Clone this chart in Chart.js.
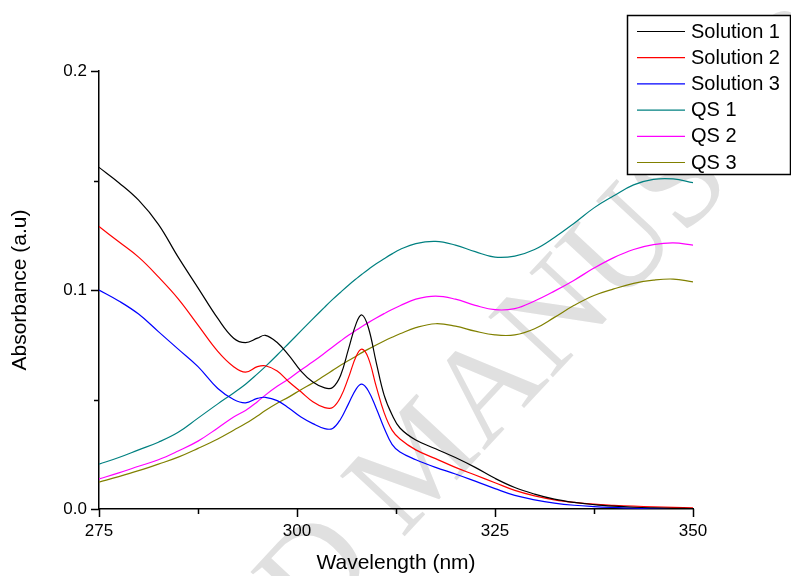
<!DOCTYPE html>
<html>
<head>
<meta charset="utf-8">
<script src="https://cdn.jsdelivr.net/npm/chart.js@4.4.1/dist/chart.umd.min.js"></script>
<style>
  html, body { margin: 0; padding: 0; background: #fff; }
  #wrap { width: 791px; height: 576px; position: relative; }
</style>
</head>
<body>
<div id="wrap"><canvas id="chart" width="791" height="576"></canvas></div>
<script>
// Wavelength grid (nm)
const wavelengths = [275, 277.5, 280, 282.5, 285, 287.5, 290, 292, 293.5, 295, 296, 297.5, 299, 300.5, 302, 303.5,
  304.5, 305.5, 306.5, 307.5, 308.2, 309, 310, 311, 312, 313, 315, 317.5, 320, 322.5, 325, 327.5, 330, 332.5,
  335, 337.5, 340, 342.5, 345, 347.5, 350];

const solution1 = [0.156, 0.149, 0.141, 0.130, 0.115, 0.101, 0.087, 0.078, 0.076, 0.078, 0.0793, 0.076, 0.070, 0.063,
  0.058, 0.0553, 0.0555, 0.061, 0.073, 0.085, 0.0886, 0.083, 0.067, 0.052, 0.043, 0.037, 0.0315, 0.0275, 0.0235, 0.019,
  0.014, 0.0098, 0.0068, 0.0045, 0.003, 0.002, 0.0013, 0.0008, 0.0005, 0.0003, 0.0002];

const solution2 = [0.129, 0.122, 0.115, 0.106, 0.096, 0.084, 0.072, 0.065, 0.0625, 0.065, 0.0654, 0.063, 0.058, 0.0535,
  0.049, 0.0463, 0.0463, 0.051, 0.060, 0.070, 0.073, 0.069, 0.056, 0.044, 0.036, 0.032, 0.027, 0.023, 0.019, 0.0155,
  0.012, 0.0085, 0.006, 0.0042, 0.003, 0.0022, 0.0017, 0.0013, 0.001, 0.0007, 0.0005];

const solution3 = [0.100, 0.095, 0.089, 0.081, 0.073, 0.065, 0.055, 0.050, 0.0485, 0.0505, 0.051, 0.0495, 0.046, 0.042,
  0.039, 0.0367, 0.0368, 0.041, 0.048, 0.055, 0.057, 0.054, 0.046, 0.037, 0.0295, 0.026, 0.0225, 0.019, 0.016, 0.0127,
  0.0093, 0.0062, 0.0042, 0.0027, 0.0017, 0.0011, 0.0007, 0.0004, 0.0002, 0.0001, 0.0001];

const qs1 = [0.0205, 0.0235, 0.027, 0.0305, 0.035, 0.0415, 0.048, 0.053, 0.057, 0.0617, 0.065, 0.0703, 0.0758, 0.0813,
  0.0868, 0.0922, 0.0957, 0.099, 0.1022, 0.1052, 0.1072, 0.1094, 0.112, 0.1143, 0.1165, 0.1185, 0.1212, 0.1222, 0.1205,
  0.1175, 0.115, 0.1155, 0.1185, 0.124, 0.1305, 0.1375, 0.143, 0.148, 0.1505, 0.1507, 0.149];

const qs2 = [0.0137, 0.0165, 0.0195, 0.0225, 0.0265, 0.031, 0.037, 0.042, 0.045, 0.049, 0.052, 0.056, 0.0595, 0.0635,
  0.0672, 0.0712, 0.074, 0.0767, 0.0793, 0.0817, 0.0833, 0.0851, 0.0872, 0.0892, 0.0911, 0.0928, 0.0958, 0.0972, 0.0958,
  0.093, 0.091, 0.0915, 0.095, 0.0995, 0.1045, 0.110, 0.1148, 0.1185, 0.1207, 0.1215, 0.1205];

const qs3 = [0.0123, 0.0148, 0.0175, 0.0205, 0.0237, 0.0277, 0.032, 0.036, 0.039, 0.0425, 0.045, 0.0483, 0.0512, 0.0545,
  0.0575, 0.061, 0.0633, 0.0656, 0.0678, 0.0699, 0.0714, 0.073, 0.0749, 0.0767, 0.0784, 0.08, 0.0828, 0.0846, 0.0835,
  0.0812, 0.0795, 0.0795, 0.0823, 0.0875, 0.093, 0.0975, 0.1005, 0.103, 0.1045, 0.105, 0.1037];

const seriesNames = ['Solution 1', 'Solution 2', 'Solution 3', 'QS 1', 'QS 2', 'QS 3'];
const seriesValues = [solution1, solution2, solution3, qs1, qs2, qs3];
const seriesColors = ['#000000', '#ff0000', '#0000ff', '#008080', '#ff00ff', '#808000'];

const xTicks = [275, 300, 325, 350];
const yTicks = [0.0, 0.1, 0.2];

const FONT = 'Arial, "Liberation Sans", sans-serif';

// Watermark, drawn before the axes so labels and curves sit on top
const watermark = {
  id: 'watermark',
  beforeDraw(chart) {
    const ctx = chart.ctx;
    ctx.save();
    ctx.translate(402, 539);
    ctx.rotate(-47 * Math.PI / 180);
    ctx.font = '135px "Liberation Serif", "Times New Roman", serif';
    ctx.fillStyle = '#e0e0e0';
    ctx.textBaseline = 'alphabetic';
    ctx.textAlign = 'right';
    ctx.fillText('ACCEPTED ', 0, 0);
    ctx.textAlign = 'left';
    ctx.fillText('MANUSCRIPT', 0, 0);
    ctx.restore();
  }
};

// Outward tick marks, long for labelled values, short in between
const tickMarks = {
  id: 'tickMarks',
  afterDraw(chart) {
    const ctx = chart.ctx;
    const xs = chart.scales.x, ys = chart.scales.y;
    ctx.save();
    ctx.strokeStyle = '#000';
    ctx.lineWidth = 1.5;
    ctx.beginPath();
    xs.ticks.forEach(t => {
      const px = Math.round(xs.getPixelForValue(t.value)) + 0.5;
      const major = xTicks.includes(t.value);
      ctx.moveTo(px, xs.top);
      ctx.lineTo(px, xs.top + (major ? 8 : 5));
    });
    ys.ticks.forEach(t => {
      const py = Math.round(ys.getPixelForValue(t.value)) + 0.5;
      const major = yTicks.some(v => Math.abs(v - t.value) < 1e-9);
      ctx.moveTo(ys.right, py);
      ctx.lineTo(ys.right - (major ? 8 : 5), py);
    });
    ctx.stroke();
    ctx.restore();
  }
};

// Boxed legend in the top right corner
const boxLegend = {
  id: 'boxLegend',
  afterDraw(chart) {
    const ctx = chart.ctx;
    ctx.save();
    ctx.fillStyle = '#fff';
    ctx.fillRect(627, 15, 163, 159);
    ctx.strokeStyle = '#000';
    ctx.lineWidth = 1.5;
    ctx.strokeRect(627.5, 15.5, 163, 159);
    ctx.font = '20px ' + FONT;
    ctx.textBaseline = 'middle';
    ctx.textAlign = 'left';
    chart.data.datasets.forEach((ds, i) => {
      const y = 31 + i * 26.2;
      ctx.strokeStyle = ds.borderColor;
      ctx.lineWidth = 1.2;
      ctx.beginPath();
      ctx.moveTo(637, y + 0.5);
      ctx.lineTo(685, y + 0.5);
      ctx.stroke();
      ctx.fillStyle = '#000';
      ctx.fillText(ds.label, 691, y + 1);
    });
    ctx.restore();
  }
};

new Chart(document.getElementById('chart'), {
  type: 'line',
  data: {
    datasets: seriesNames.map((name, i) => ({
      label: name,
      data: wavelengths.map((w, j) => ({ x: w, y: seriesValues[i][j] })),
      borderColor: seriesColors[i],
      borderWidth: 1.2,
      pointRadius: 0,
      fill: false,
      tension: 0.4
    }))
  },
  options: {
    responsive: false,
    animation: false,
    layout: { padding: { top: 71, right: 98, left: 0, bottom: 0 } },
    plugins: {
      legend: { display: false },
      tooltip: { enabled: false }
    },
    scales: {
      x: {
        type: 'linear',
        min: 275,
        max: 350,
        afterFit(scale) { scale.height = 67; },
        grid: { drawOnChartArea: false, drawTicks: false },
        border: { display: true, color: '#000', width: 1.5 },
        ticks: {
          stepSize: 12.5,
          padding: 12,
          color: '#000',
          font: { family: FONT, size: 17 },
          maxRotation: 0,
          autoSkip: false,
          callback: v => xTicks.includes(v) ? String(v) : ''
        },
        title: {
          display: true,
          text: 'Wavelength (nm)',
          color: '#000',
          font: { family: FONT, size: 21 },
          padding: { top: 0, bottom: 0 }
        }
      },
      y: {
        min: 0,
        max: 0.2,
        afterFit(scale) { scale.width = 99; },
        grid: { drawOnChartArea: false, drawTicks: false },
        border: { display: true, color: '#000', width: 1.5 },
        ticks: {
          stepSize: 0.05,
          padding: 12,
          color: '#000',
          font: { family: FONT, size: 17 },
          autoSkip: false,
          callback: v => yTicks.some(t => Math.abs(t - v) < 1e-9) ? v.toFixed(1) : ''
        },
        title: {
          display: true,
          text: 'Absorbance (a.u)',
          color: '#000',
          font: { family: FONT, size: 21 },
          padding: { top: 8, bottom: 0 }
        }
      }
    }
  },
  plugins: [watermark, tickMarks, boxLegend]
});
</script>
</body>
</html>
